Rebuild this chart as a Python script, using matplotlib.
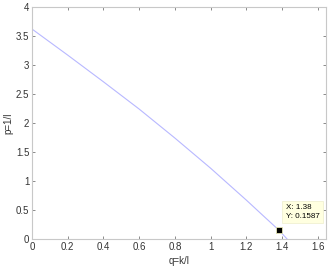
import matplotlib
matplotlib.use("Agg")
import matplotlib.pyplot as plt

plt.rcParams['font.family'] = ['Liberation Sans', 'DejaVu Sans']

q = [0.0, 0.2, 0.4, 0.6, 0.8, 1.0, 1.2, 1.3, 1.38, 1.428]
p = [3.62, 3.17, 2.71, 2.24, 1.74, 1.22, 0.67, 0.385, 0.1587, 0.0]
dt_x, dt_y = 1.38, 0.1587
xticks = [0, 0.2, 0.4, 0.6, 0.8, 1, 1.2, 1.4, 1.6]
yticks = [0, 0.5, 1, 1.5, 2, 2.5, 3, 3.5, 4]

fig = plt.figure(figsize=(3.31, 2.66), dpi=100)
ax = fig.add_axes([0.0967, 0.1015, 0.8883, 0.8722])
ax.plot(q, p, color=(0.72, 0.72, 1.0), lw=0.8)
ax.plot([dt_x], [dt_y], marker='s', ms=5, color='black', mec=(0.9, 0.9, 0.7), mew=0.6)
ax.set_xlim(0, 1.646)
ax.set_ylim(0, 4)
ax.set_xticks(xticks)
ax.set_xticklabels([f"{t:g}" for t in xticks])
ax.set_yticks(yticks)
ax.set_yticklabels([f"{t:g}" for t in yticks])
for s in ax.spines.values():
    s.set_color('#c8c8c8')
    s.set_linewidth(0.8)
ax.tick_params(direction='in', length=2, width=0.6, color='#777777',
               labelsize=7, labelcolor='#333333', top=True, right=True, pad=2)
ax.set_xlabel('q=k/l', fontsize=7, color='#333333', labelpad=3)
ax.set_ylabel('p=1/l', fontsize=7, color='#333333', labelpad=2)
ax.annotate(f"X: {dt_x:g}\nY: {dt_y:g}", xy=(dt_x, dt_y), xytext=(dt_x + 0.04, dt_y + 0.17),
            fontsize=5.8, color='black', va='bottom', ha='left', linespacing=1.4,
            bbox=dict(boxstyle='square,pad=0.4', fc=(1.0, 1.0, 0.88), ec=(0.93, 0.93, 0.8), lw=0.5))
fig.savefig('out.png', dpi=100, facecolor='white')
